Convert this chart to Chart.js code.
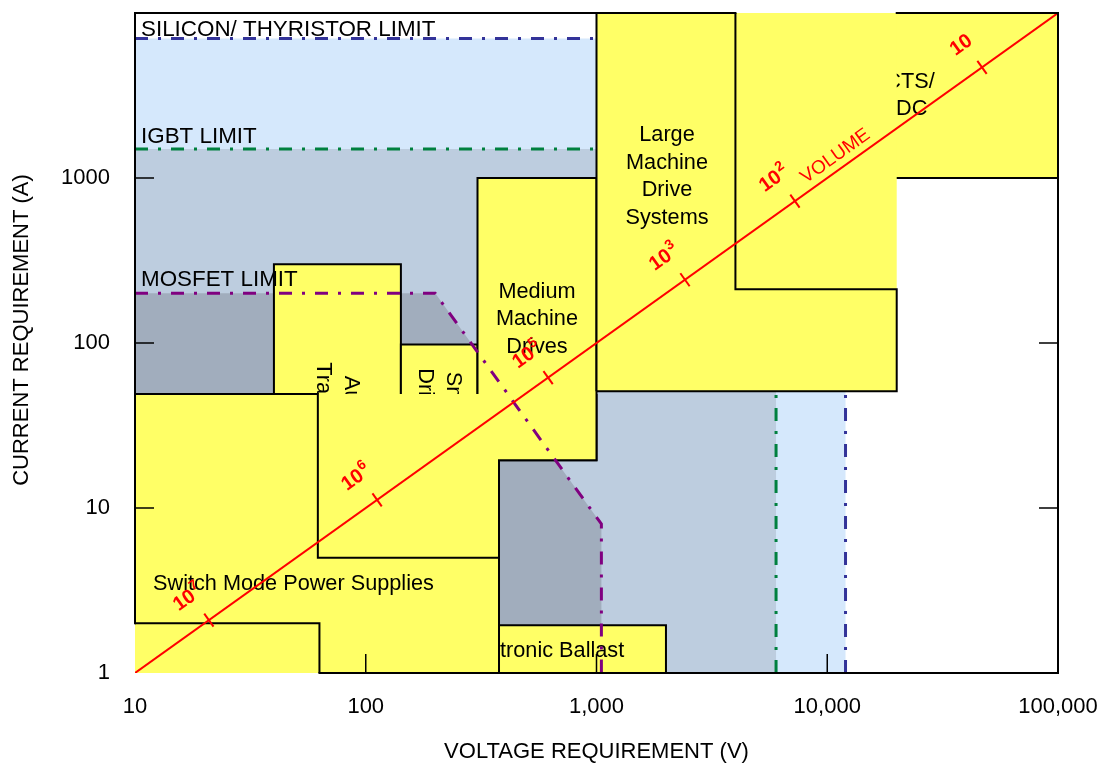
<!DOCTYPE html>
<html>
<head>
<meta charset="utf-8">
<title>Power semiconductor application map</title>
<script src="https://cdn.jsdelivr.net/npm/chart.js@4/dist/chart.umd.min.js"></script>
<style>
  html, body { margin: 0; padding: 0; background: #ffffff; }
  canvas { display: block; }
</style>
</head>
<body>
<canvas id="chart" width="1106" height="764"></canvas>
<script>
// ---- Axis ticks ----
const voltageTicks = [10, 100, 1000, 10000, 100000];
const voltageTickLabels = ['10', '100', '1,000', '10,000', '100,000'];
const currentTicks = [1, 10, 100, 1000];
const currentTickLabels = ['1', '10', '100', '1000'];

// ---- Device capability regions, corners as [voltage V, current A] ----
const siliconRegion = [[10, 1], [10, 7000], [12000, 7000], [12000, 1]];
const igbtRegion = [[10, 1], [10, 1500], [6000, 1500], [6000, 1]];
const mosfetRegion = [[10, 1], [10, 200], [200, 200], [1050, 8], [1050, 1]];

// ---- Device limit lines ----
const siliconLimit = [[10, 7000], [12000, 7000], [12000, 1]];
const igbtLimit = [[10, 1500], [6000, 1500], [6000, 1]];
const mosfetLimit = [[10, 200], [200, 200], [1050, 8], [1050, 1]];

// ---- Application areas ----
const ballastArea = [[170, 1], [170, 1.95], [2000, 1.95], [2000, 1]];
const tractionArea = [[40, 1], [40, 300], [142, 300], [142, 1]];
const smallDrivesArea = [[142, 1], [142, 98], [305, 98], [305, 1]];
const mediumDrivesArea = [[305, 19.5], [305, 1000], [1000, 1000], [1000, 19.5]];
const lowVoltageSpan = [[62, 5], [62, 49], [1000, 49], [1000, 19.5], [378, 19.5], [378, 5]];
const lowVoltageEdge = [[1000, 49], [1000, 19.5], [378, 19.5], [378, 5]];
const smpsArea = [[10, 1], [10, 49], [62, 49], [62, 5], [378, 5], [378, 1]];
const smpsEdge = [[10, 2], [63, 2], [63, 1], [378, 1], [378, 5], [62, 5], [62, 49], [10, 49], [10, 2]];
const factsArea = [[4000, 1000], [4000, 10000], [100000, 10000], [100000, 1000]];
const highPowerSpan = [[4000, 212], [4000, 10000], [20000, 10000], [20000, 212]];
const largeDrivesArea = [[1000, 51], [1000, 10000], [4000, 10000], [4000, 212], [20000, 212], [20000, 51]];

// ---- Volume line (I = V / 10) and its decade marks ----
const volumeLine = [[10, 1], [100000, 10000]];
const volumeMarkVoltages = [20.9, 112, 617, 2418, 7244, 46850];
const volumeMarkExponents = ['7', '6', '5', '3', '2', ''];

// ---- Text ----
const limitLabelTexts = ['SILICON/ THYRISTOR LIMIT', 'IGBT LIMIT', 'MOSFET LIMIT'];
const limitLabelLevels = [7000, 1500, 200];
const ballastText = ['Electronic Ballast'];
const tractionText = ['Auto/', 'Traction'];
const smallDrivesText = ['Small', 'Drives'];
const mediumDrivesText = ['Medium', 'Machine', 'Drives'];
const smpsText = ['Switch Mode Power Supplies'];
const factsText = ['FACTS/', 'HVDC'];
const largeDrivesText = ['Large', 'Machine', 'Drive', 'Systems'];

const FONT = "'Liberation Sans', Arial, Helvetica, sans-serif";
const YELLOW = '#ffff66';
const RED = '#ff0000';

const pts = arr => arr.map(([x, y]) => ({ x, y }));
const closed = arr => pts(arr.concat([arr[0]]));

function fillLayer(points, color) {
  return { data: pts(points), showLine: true, fill: 'shape', backgroundColor: color,
           borderWidth: 0, pointRadius: 0 };
}
function boxLayer(points, label) {
  return { data: closed(points), showLine: true, fill: 'shape', backgroundColor: YELLOW,
           borderColor: '#000000', borderWidth: 2, borderJoinStyle: 'miter', pointRadius: 0,
           areaLabel: label };
}
function edgeLayer(points, label) {
  return { data: pts(points), showLine: true, fill: false, borderColor: '#000000',
           borderWidth: 2, borderJoinStyle: 'miter', pointRadius: 0, areaLabel: label };
}
function limitLayer(points, color) {
  return { data: pts(points), showLine: true, fill: false, borderColor: color,
           borderWidth: 3, borderDash: [13, 10, 3, 10], pointRadius: 0 };
}

// Layers listed bottom to top
const layers = [
  fillLayer(siliconRegion, '#d5e8fc'),
  fillLayer(igbtRegion, '#bdcddf'),
  fillLayer(mosfetRegion, '#a1adbd'),
  limitLayer(siliconLimit, '#333399'),
  limitLayer(igbtLimit, '#00803f'),
  boxLayer(ballastArea, { lines: ballastText, at: [575, 1.35] }),
  boxLayer(tractionArea, { lines: tractionText, at: [75, 44.5], rotate: Math.PI / 2, gap: 28 }),
  boxLayer(smallDrivesArea, { lines: smallDrivesText, at: [208, 45.8], rotate: Math.PI / 2, gap: 28 }),
  boxLayer(mediumDrivesArea, { lines: mediumDrivesText, at: [552, 139], gap: 27.5 }),
  fillLayer(lowVoltageSpan, YELLOW),
  edgeLayer(lowVoltageEdge),
  fillLayer(smpsArea, YELLOW),
  edgeLayer(smpsEdge, { lines: smpsText, at: [48.6, 3.46] }),
  boxLayer(factsArea, { lines: factsText, at: [20000, 3160], gap: 26.5 }),
  fillLayer(highPowerSpan, YELLOW),
  boxLayer(largeDrivesArea, { lines: largeDrivesText, at: [2021, 1021], gap: 27.5 }),
  limitLayer(mosfetLimit, '#800080'),
  { data: pts(volumeLine), showLine: true, fill: false, borderColor: RED, borderWidth: 2, pointRadius: 0 }
];
// First layer gets the highest order so it is painted first
layers.forEach((ds, i) => { ds.order = layers.length - i; });

function drawAreaLabel(chart, lbl) {
  const ctx = chart.ctx;
  const px = chart.scales.x.getPixelForValue(lbl.at[0]);
  const py = chart.scales.y.getPixelForValue(lbl.at[1]);
  const gap = lbl.gap || 27;
  const n = lbl.lines.length;
  ctx.save();
  ctx.translate(px, py);
  ctx.rotate(lbl.rotate || 0);
  ctx.font = `21.7px ${FONT}`;
  ctx.fillStyle = '#000000';
  ctx.textAlign = 'center';
  ctx.textBaseline = 'middle';
  lbl.lines.forEach((t, i) => ctx.fillText(t, 0, (i - (n - 1) / 2) * gap));
  ctx.restore();
}

const mapDecorations = {
  id: 'mapDecorations',
  afterDatasetDraw(chart, args) {
    const ds = chart.data.datasets[args.index];
    if (ds && ds.areaLabel) drawAreaLabel(chart, ds.areaLabel);
  },
  afterDatasetsDraw(chart) {
    const ctx = chart.ctx;
    const xs = chart.scales.x, ys = chart.scales.y;
    const { left, right, top, bottom } = chart.chartArea;
    const X = v => xs.getPixelForValue(v);
    const Y = v => ys.getPixelForValue(v);

    // Limit captions
    ctx.save();
    ctx.font = `22.4px ${FONT}`;
    ctx.fillStyle = '#000000';
    ctx.textAlign = 'left';
    ctx.textBaseline = 'alphabetic';
    const lift = [3, 6, 7];
    limitLabelTexts.forEach((t, i) => ctx.fillText(t, left + 6, Y(limitLabelLevels[i]) - lift[i]));
    ctx.restore();

    // Volume marks and captions along the red line
    const ratio = volumeLine[1][1] / volumeLine[1][0];
    const ang = Math.atan2(Y(volumeLine[1][1]) - Y(volumeLine[0][1]), X(volumeLine[1][0]) - X(volumeLine[0][0]));
    const ux = Math.cos(ang), uy = Math.sin(ang);
    const nx = uy, ny = -ux; // normal pointing up-left
    ctx.save();
    ctx.strokeStyle = RED;
    ctx.fillStyle = RED;
    ctx.lineWidth = 2;
    volumeMarkVoltages.forEach((v, i) => {
      const px = X(v), py = Y(v * ratio);
      ctx.beginPath();
      ctx.moveTo(px - 8 * nx, py - 8 * ny);
      ctx.lineTo(px + 8 * nx, py + 8 * ny);
      ctx.stroke();
      const cx = px + 30 * nx - 4 * ux, cy = py + 30 * ny - 4 * uy;
      ctx.save();
      ctx.translate(cx, cy);
      ctx.rotate(ang);
      ctx.textBaseline = 'middle';
      ctx.textAlign = 'left';
      ctx.font = `bold 20px ${FONT}`;
      const w1 = ctx.measureText('10').width;
      ctx.font = `bold 14px ${FONT}`;
      const exp = volumeMarkExponents[i];
      const w2 = exp ? ctx.measureText(exp).width + 1 : 0;
      const x0 = -(w1 + w2) / 2;
      ctx.font = `bold 20px ${FONT}`;
      ctx.fillText('10', x0, 0);
      if (exp) {
        ctx.font = `bold 14px ${FONT}`;
        ctx.fillText(exp, x0 + w1 + 1, -7);
      }
      ctx.restore();
    });
    {
      const v = 11700;
      const px = X(v), py = Y(v * ratio);
      ctx.translate(px + 13 * nx, py + 13 * ny);
      ctx.rotate(ang);
      ctx.font = `19px ${FONT}`;
      ctx.textAlign = 'center';
      ctx.textBaseline = 'middle';
      ctx.fillText('VOLUME', 0, 0);
    }
    ctx.restore();

    // Plot frame
    ctx.save();
    ctx.strokeStyle = '#000000';
    ctx.lineWidth = 2;
    ctx.lineCap = 'square';
    ctx.beginPath();
    ctx.moveTo(left, top); ctx.lineTo(X(4000), top);
    ctx.moveTo(X(20000), top); ctx.lineTo(right, top);
    ctx.moveTo(right, top); ctx.lineTo(right, bottom);
    ctx.moveTo(X(63), bottom); ctx.lineTo(right, bottom);
    ctx.moveTo(left, top); ctx.lineTo(left, Y(2));
    ctx.stroke();

    // Inward tick marks
    ctx.lineWidth = 1.5;
    ctx.lineCap = 'butt';
    ctx.beginPath();
    currentTicks.slice(1).forEach(v => {
      const py = Y(v);
      ctx.moveTo(left, py); ctx.lineTo(left + 19, py);
      ctx.moveTo(right, py); ctx.lineTo(right - 19, py);
    });
    voltageTicks.slice(1, -1).forEach(v => {
      const px = X(v);
      ctx.moveTo(px, bottom); ctx.lineTo(px, bottom - 19);
    });
    ctx.stroke();
    ctx.restore();
  },
  afterDraw(chart) {
    // Vertical axis title
    const ctx = chart.ctx;
    const { top, bottom } = chart.chartArea;
    ctx.save();
    ctx.translate(22, (top + bottom) / 2 - 13);
    ctx.rotate(-Math.PI / 2);
    ctx.font = `22px ${FONT}`;
    ctx.fillStyle = '#000000';
    ctx.textAlign = 'center';
    ctx.textBaseline = 'middle';
    ctx.fillText('CURRENT REQUIREMENT (A)', 0, 0);
    ctx.restore();
  }
};

// Fixed axis boxes: no extra edge padding from tick labels
function fixBox(size) {
  return s => {
    if (s.isHorizontal()) s.height = size; else s.width = size;
    s.paddingTop = 0; s.paddingBottom = 0; s.paddingLeft = 0; s.paddingRight = 0;
  };
}

Chart.defaults.font.family = FONT;
Chart.defaults.color = '#000000';

new Chart(document.getElementById('chart'), {
  type: 'scatter',
  data: { datasets: layers },
  plugins: [mapDecorations],
  options: {
    responsive: false,
    animation: false,
    devicePixelRatio: 1,
    events: [],
    layout: { padding: { left: 0, top: 13, right: 48, bottom: 0 } },
    plugins: { legend: { display: false }, tooltip: { enabled: false } },
    scales: {
      x: {
        type: 'logarithmic',
        position: 'bottom',
        min: 10,
        max: 100000,
        afterBuildTicks: s => { s.ticks = voltageTicks.map(v => ({ value: v })); },
        afterFit: fixBox(91),
        ticks: {
          autoSkip: false, maxRotation: 0, padding: 21,
          font: { size: 22 }, color: '#000000',
          callback: v => voltageTickLabels[voltageTicks.indexOf(v)]
        },
        grid: { display: false, drawTicks: false },
        border: { display: false },
        title: {
          display: true, text: 'VOLTAGE REQUIREMENT (V)', color: '#000000',
          font: { size: 22, lineHeight: 1.1 }, padding: { top: 0, bottom: 0 }
        }
      },
      y: {
        type: 'logarithmic',
        position: 'left',
        min: 1,
        max: 10000,
        afterBuildTicks: s => { s.ticks = currentTicks.map(v => ({ value: v })); },
        afterFit: fixBox(135),
        ticks: {
          autoSkip: false, padding: 25,
          font: { size: 22 }, color: '#000000',
          callback: v => currentTickLabels[currentTicks.indexOf(v)]
        },
        grid: { display: false, drawTicks: false },
        border: { display: false },
        title: { display: false }
      }
    }
  }
});
</script>
</body>
</html>
